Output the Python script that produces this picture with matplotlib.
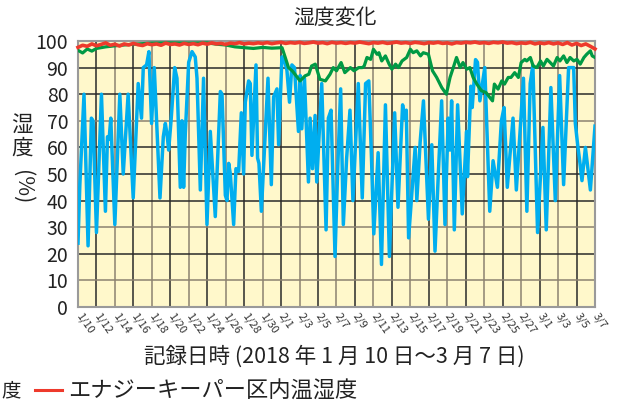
import numpy as np
import matplotlib
matplotlib.use("Agg")
import matplotlib.pyplot as plt
from matplotlib.lines import Line2D

plt.rcParams['font.family'] = ['Noto Sans CJK JP', 'DejaVu Sans']

# ---------------- data ----------------
title = "湿度変化"
xlabel = "記録日時 (2018 年 1 月 10 日〜3 月 7 日)"
legend_label_red = "エナジーキーパー区内温湿度"

tick_days = [0, 2, 4, 6, 8, 10, 12, 14, 16, 18, 20, 22, 24, 26, 28, 30,
             32, 34, 36, 38, 40, 42, 44, 46, 48, 50, 52, 54, 56]
tick_labels = ["1/10", "1/12", "1/14", "1/16", "1/18", "1/20", "1/22", "1/24",
               "1/26", "1/28", "1/30", "2/1", "2/3", "2/5", "2/7", "2/9",
               "2/11", "2/13", "2/15", "2/17", "2/19", "2/21", "2/23", "2/25",
               "2/27", "3/1", "3/3", "3/5", "3/7"]

# blue series (days since 1/10, humidity %)
blue_days = [0, 0.2, 0.65, 1.09, 1.45, 1.63, 2.0, 2.54, 2.97, 3.19, 3.37, 3.55,
             3.99, 4.53, 4.9, 5.43, 5.98, 6.52, 6.88, 7.07, 7.43, 7.68, 7.97,
             8.26, 8.88, 9.24, 9.46, 9.64, 9.82, 10.1, 10.47, 10.72, 11.08,
             11.26, 11.44, 11.62, 11.99, 12.35, 12.7, 12.89, 13.25, 13.6,
             13.97, 14.33, 14.87, 15.42, 15.6, 15.96, 16.14, 16.32, 16.5,
             16.86, 17.11, 17.4, 17.69, 17.94, 18.12, 18.48, 18.66, 18.84,
             19.28, 19.45, 19.6, 19.86, 20.58, 20.94, 21.19, 21.55, 21.73,
             22.09, 22.27, 22.63, 22.91, 23.17, 23.45, 23.88, 24.06, 24.24,
             24.53, 24.96, 25.14, 25.4, 25.68, 25.86, 26.4, 26.87, 27.12,
             27.41, 27.84, 28.13, 28.45, 28.74, 29.1, 29.46, 29.78, 30.36,
             30.79, 31.15, 31.5, 31.79, 32.04, 32.51, 32.87, 33.3, 33.73,
             34.3, 34.66, 35.16, 35.38, 35.56, 35.81, 36.52, 36.7, 37.06,
             37.42, 37.96, 38.32, 38.67, 39.03, 39.39, 39.75, 40.1, 40.29,
             40.47, 40.76, 41.12, 41.62, 42.09, 42.19, 42.55, 42.7, 43.06,
             43.27, 43.53, 44.06, 44.6, 44.96, 45.43, 45.86, 46.15, 46.5,
             47.12, 47.48, 48.25, 48.62, 48.98, 49.27, 49.78, 50.36, 50.72,
             51.22, 51.7, 52.17, 52.6, 53.14, 53.69, 53.87, 54.12, 54.34,
             54.59, 54.96, 55.5, 56.0]
blue_vals = [24, 46, 80, 23, 71, 70, 28, 80, 36, 64, 63, 71,
             31, 80, 50, 80, 41, 84, 71, 90, 91, 96, 69,
             90, 41, 64, 69, 65, 59, 71, 90, 86, 45,
             70, 45, 65, 92, 96, 94, 86, 44, 86,
             31, 66, 34, 81, 80, 42, 40, 54, 50,
             31, 52, 51, 73, 50, 77, 85, 84, 57,
             91, 56, 54, 36, 86, 46, 79, 82, 61,
             94, 94, 89, 77, 91, 90, 66, 87, 67,
             86, 47, 71, 52, 72, 47, 84, 29, 71,
             74, 19, 52, 82, 31, 56, 74, 40, 84,
             41, 84, 85, 56, 27.5, 58, 16, 76, 19,
             73, 37.5, 76, 71, 74, 26, 60, 40, 62,
             77.5, 33, 61, 21, 50, 77.5, 31, 71, 59,
             77.5, 29, 76, 35, 66, 49, 83, 75, 93,
             92, 77.5, 90, 36, 55, 45, 70, 75, 45,
             71, 44, 86, 36, 84, 91, 28, 67.5, 29,
             82.5, 40, 87, 46, 90, 90, 69, 61, 55,
             47.5, 60, 44, 68]

# green series
green_days = [0, 0.5, 1, 1.5, 2, 3, 4, 5, 6, 7, 8, 10, 12, 14, 15, 16, 17,
              18, 19, 20, 21, 22.1, 22.45, 22.8, 23.2, 23.5, 24.05, 24.6,
              25.0, 25.3, 25.7, 26.2, 26.8, 27.3, 27.65, 28.0, 28.5, 28.9,
              29.5, 29.9, 30.4, 30.8, 31.0, 31.3, 31.7, 32.0, 32.4, 32.6,
              32.9, 33.3, 33.7, 34.0, 34.4, 34.7, 35.1, 35.6, 36.0, 36.3,
              36.7, 37.1, 37.4, 37.96, 38.4, 38.85, 39.4, 39.9, 40.3, 40.65,
              41.0, 41.4, 41.7, 42.1, 42.45, 42.8, 43.2, 43.7, 44.2, 44.6,
              44.9, 45.1, 45.5, 45.9, 46.2, 46.6, 46.9, 47.3, 47.7, 48.0,
              48.4, 48.6, 49.0, 49.3, 49.7, 50.1, 50.4, 50.8, 51.15, 51.5,
              51.9, 52.2, 52.6, 52.96, 53.3, 53.7, 54.05, 54.4, 54.8, 55.1,
              55.5, 55.7, 56.0]
green_vals = [96.5, 95.5, 97.0, 96.2, 97.2, 97.8, 98.2, 98.5, 98.8, 99.0,
              99.2, 99.3, 99.2, 99.3, 98.8, 98.5, 97.8, 97.5, 97.2, 97.6,
              97.3, 97.5, 93.8, 90.0, 88.8, 87.5, 85.0, 86.9, 87.5, 90.6,
              91.3, 85.6, 85.0, 87.5, 90.0, 88.8, 91.9, 88.1, 90.0, 88.8,
              90.0, 90.0, 90.6, 93.8, 93.1, 96.9, 95.0, 95.6, 92.5, 94.4,
              91.3, 89.4, 91.3, 90.0, 92.5, 93.8, 96.9, 95.6, 96.3, 94.4,
              95.6, 95.0, 88.8, 86.3, 82.5, 80.0, 86.3, 90.0, 93.8, 90.0,
              91.9, 89.4, 90.0, 86.3, 83.8, 81.3, 80.6, 78.8, 77.5, 83.8,
              81.9, 85.0, 83.8, 86.3, 86.3, 88.1, 86.3, 91.9, 93.1, 92.5,
              93.8, 90.6, 90.0, 92.5, 90.6, 93.1, 91.9, 90.6, 93.8, 92.5,
              94.4, 91.9, 93.8, 92.5, 93.1, 91.3, 93.8, 95.0, 96.3, 94.4,
              93.8]

# red series, sampled every half day from 1/10 to 3/7
red_vals = [97.6, 98.4, 98.0, 98.9, 98.2, 98.7, 99.3, 98.4, 98.8, 98.1,
            98.9, 98.5, 99.1, 98.6, 98.3, 99.0, 98.6, 98.9, 98.4, 99.2,
            98.7, 98.9, 98.5, 99.1, 98.7, 99.0, 98.6, 99.2, 98.8, 99.3,
            98.9, 99.1, 98.7, 99.2, 99.0, 99.4, 98.9, 99.2, 99.0, 99.3,
            99.1, 99.4, 99.0, 99.3, 99.5, 99.1, 99.4, 99.2, 99.5, 99.1,
            99.3, 99.6, 99.2, 99.4, 99.0, 99.5, 99.2, 99.4, 99.1, 99.4,
            99.2, 99.6, 99.3, 99.0, 99.4, 99.2, 99.5, 99.1, 99.3, 99.6,
            99.2, 99.4, 99.1, 99.5, 99.3, 99.0, 99.4, 99.2, 99.5, 99.1,
            99.3, 98.9, 99.4, 99.2, 99.5, 99.3, 99.6, 99.2, 99.4, 99.1,
            99.5, 99.3, 99.6, 99.2, 99.4, 99.0, 99.3, 99.1, 99.5, 98.9,
            99.3, 99.0, 99.4, 98.9, 99.3, 98.7, 99.4, 98.5, 99.1, 98.3,
            98.9, 98.0, 97.0]
red_days = np.arange(len(red_vals)) * 0.5

# ---------------- figure ----------------
fig = plt.figure(figsize=(6.17, 4.07), dpi=100)
ax = fig.add_axes([78/617, 1 - 307/407, (595-78)/617, (307-41)/407])
ax.set_facecolor("#FFF8CB")

ax.set_xlim(0, 56)
ax.set_ylim(0, 100)

# grid lines (alternating dark / brownish grey)
for d in tick_days[1:-1]:
    c = "#2a2a2a" if (d % 4 == 2) else "#8c8270"
    ax.axvline(d, color=c, lw=1.1, zorder=1)
yg_colors = {10: "#8c8270", 20: "#2a2a2a", 30: "#8c8270", 40: "#2a2a2a",
             50: "#2a2a2a", 60: "#2a2a2a", 70: "#8c8270", 80: "#2a2a2a",
             90: "#2a2a2a"}
for v, c in yg_colors.items():
    ax.axhline(v, color=c, lw=1.1, zorder=1)

ax.plot(blue_days, blue_vals, color="#00AEEF", lw=2.5, zorder=3,
        solid_joinstyle="round")
ax.plot(green_days, green_vals, color="#009A44", lw=2.3, zorder=4,
        solid_joinstyle="round")
ax.plot(red_days, red_vals, color="#EE3A2C", lw=2.6, zorder=5,
        clip_on=False, solid_joinstyle="round")

for s in ax.spines.values():
    s.set_color("#9a9a9a")
    s.set_linewidth(1.5)

ax.set_yticks(range(0, 101, 10))
ax.set_yticklabels([str(v) for v in range(0, 101, 10)], fontsize=14,
                   color="#222222")
ax.tick_params(axis="y", length=0, pad=7)

ax.set_xticks(tick_days)
ax.set_xticklabels(tick_labels, fontsize=8, rotation=-55,
                   rotation_mode="anchor", ha="left", va="center",
                   color="#333333")
ax.tick_params(axis="x", length=0, pad=5)

fig.text(335/617, 1 - 18/407, title, ha="center", va="center", fontsize=15,
         color="#222222")
fig.text(334/617, 1 - 357/407, xlabel, ha="center", va="center",
         fontsize=15.5, color="#222222")

# vertical y label
fig.text(22/617, 1 - 126/407, "湿", ha="center", va="center", fontsize=15.5,
         color="#222222")
fig.text(22/617, 1 - 149/407, "度", ha="center", va="center", fontsize=15.5,
         color="#222222")
fig.text(22/617, 1 - 187/407, "(%)", ha="center", va="center", fontsize=15.5,
         rotation=-90, color="#222222")

# legend row
fig.text(1/617, 1 - 391/407, "度", ha="left", va="center", fontsize=14,
         color="#222222")
fig.add_artist(Line2D([35/617, 62/617], [1 - 390/407, 1 - 390/407],
                      color="#EE3A2C", lw=2.2))
fig.text(68/617, 1 - 391/407, legend_label_red, ha="left", va="center",
         fontsize=16, color="#222222")

fig.savefig("out.png", dpi=100)
